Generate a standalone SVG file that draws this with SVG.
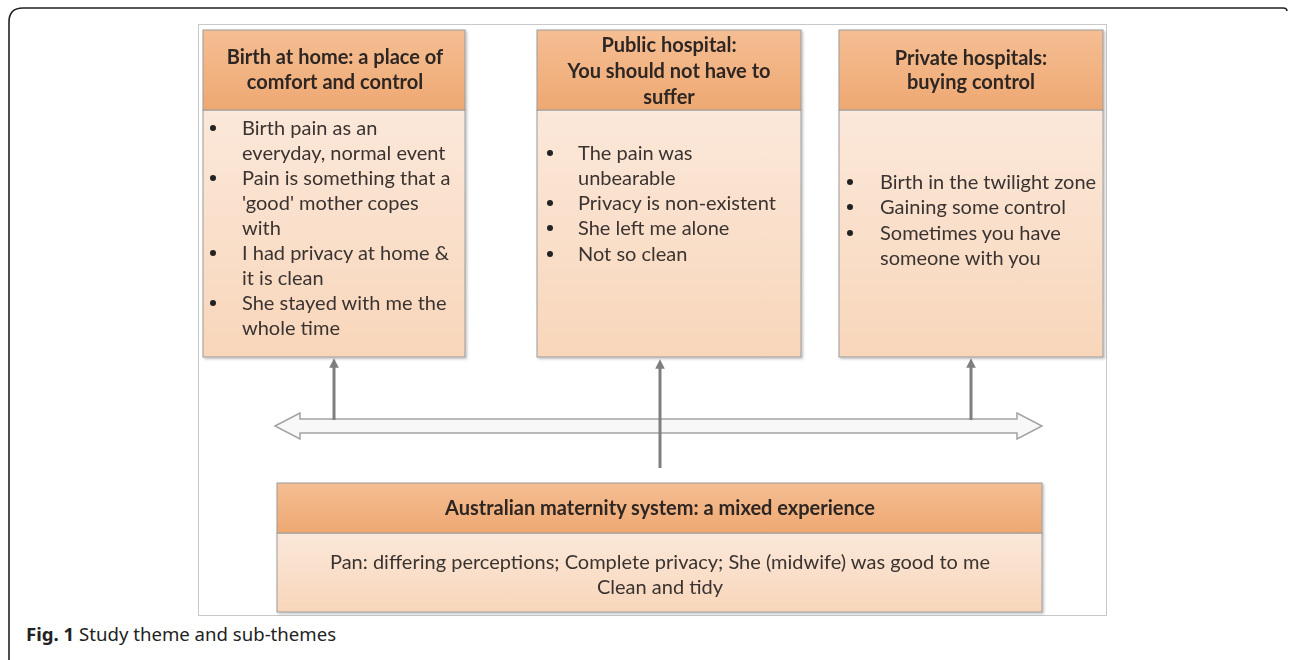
<svg xmlns="http://www.w3.org/2000/svg" width="1290" height="660" viewBox="0 0 1290 660">
  <defs>
    <linearGradient id="hdr" x1="0" y1="0" x2="0" y2="1">
      <stop offset="0" stop-color="#f5be93"/>
      <stop offset="1" stop-color="#eea872"/>
    </linearGradient>
    <linearGradient id="body" x1="0" y1="0" x2="0" y2="1">
      <stop offset="0" stop-color="#fbe8da"/>
      <stop offset="1" stop-color="#f8d6ba"/>
    </linearGradient>
    <filter id="shadow" x="-5%" y="-5%" width="110%" height="110%">
      <feDropShadow dx="1.5" dy="1.5" stdDeviation="1" flood-color="#000" flood-opacity="0.25"/>
    </filter>
    <marker id="tip" viewBox="0 0 10 10" refX="6" refY="5" markerWidth="3.2" markerHeight="3.2" orient="auto">
      <path d="M0,0 L10,5 L0,10 Z" fill="#7f7f7f"/>
    </marker>
  </defs>
  <style>
    .hdr { fill: url(#hdr); stroke: #9c9c9c; stroke-width: 1; }
    .body { fill: url(#body); stroke: #9c9c9c; stroke-width: 1; }
    .ht { font-family: Lato, "Liberation Sans", sans-serif; font-weight: bold; font-size: 20px; fill: #2e2724; text-anchor: middle; }
    .bt { font-family: Lato, "Liberation Sans", sans-serif; font-size: 20px; fill: #3a3330; }
    .bc { font-family: Lato, "Liberation Sans", sans-serif; font-size: 20px; fill: #3a3330; text-anchor: middle; }
    .dot { fill: #222; }
    .link { stroke: #7f7f7f; stroke-width: 3; fill: none; marker-end: url(#tip); }
    .cap { font-family: "Noto Sans", "Open Sans", sans-serif; font-size: 18.6px; fill: #222; }
  </style>

  <!-- page frame -->
  <path d="M9,662 L9,22 Q9,8 23,8 L1283,8 Q1287,8 1287,11" fill="none" stroke="#222" stroke-width="1.6"/>
  <!-- figure border -->
  <rect x="198.5" y="24.5" width="908" height="591" fill="#fff" stroke="#c8c8c8" stroke-width="1"/>

  <!-- timeline double arrow -->
  <path id="span-arrow" d="M275,426 L300,413 L300,419 L1017,419 L1017,413 L1042,426 L1017,439 L1017,433 L300,433 L300,439 Z" fill="#f8f8f8" stroke="#a3a3a3" stroke-width="1.5" stroke-linejoin="miter"/>

  <g id="connectors">
    <line class="link" x1="334" y1="420" x2="334" y2="362"/>
    <line class="link" x1="660" y1="468" x2="660" y2="363"/>
    <line class="link" x1="971" y1="420" x2="971" y2="362"/>
  </g>

  <g id="home" filter="url(#shadow)">
    <rect class="body" x="203" y="110" width="262" height="247"/>
    <rect class="hdr" x="203" y="30" width="262" height="80"/>
    <text class="ht" x="335" y="64">Birth at home: a place of</text>
    <text class="ht" x="335" y="89">comfort and control</text>
    <g class="dot">
      <circle cx="213" cy="128" r="3"/>
      <circle cx="213" cy="178" r="3"/>
      <circle cx="213" cy="253" r="3"/>
      <circle cx="213" cy="303" r="3"/>
    </g>
    <text class="bt" x="242" y="135">Birth pain as an</text>
    <text class="bt" x="242" y="160">everyday, normal event</text>
    <text class="bt" x="242" y="185">Pain is something that a</text>
    <text class="bt" x="242" y="210">'good' mother copes</text>
    <text class="bt" x="242" y="235">with</text>
    <text class="bt" x="242" y="260">I had privacy at home &amp;</text>
    <text class="bt" x="242" y="285">it is clean</text>
    <text class="bt" x="242" y="310">She stayed with me the</text>
    <text class="bt" x="242" y="335">whole time</text>
  </g>

  <g id="public" filter="url(#shadow)">
    <rect class="body" x="537" y="110" width="264" height="247"/>
    <rect class="hdr" x="537" y="30" width="264" height="80"/>
    <text class="ht" x="669" y="52">Public hospital:</text>
    <text class="ht" x="669" y="78">You should not have to</text>
    <text class="ht" x="669" y="104">suffer</text>
    <g class="dot">
      <circle cx="550" cy="153" r="3"/>
      <circle cx="550" cy="203" r="3"/>
      <circle cx="550" cy="228" r="3"/>
      <circle cx="550" cy="254" r="3"/>
    </g>
    <text class="bt" x="578" y="160">The pain was</text>
    <text class="bt" x="578" y="185">unbearable</text>
    <text class="bt" x="578" y="210">Privacy is non-existent</text>
    <text class="bt" x="578" y="235">She left me alone</text>
    <text class="bt" x="578" y="261">Not so clean</text>
  </g>

  <g id="private" filter="url(#shadow)">
    <rect class="body" x="839" y="110" width="264" height="247"/>
    <rect class="hdr" x="839" y="30" width="264" height="80"/>
    <text class="ht" x="971" y="65">Private hospitals:</text>
    <text class="ht" x="971" y="89">buying control</text>
    <g class="dot">
      <circle cx="850" cy="182" r="3"/>
      <circle cx="850" cy="207" r="3"/>
      <circle cx="850" cy="233" r="3"/>
    </g>
    <text class="bt" x="880" y="189">Birth in the twilight zone</text>
    <text class="bt" x="880" y="214">Gaining some control</text>
    <text class="bt" x="880" y="240">Sometimes you have</text>
    <text class="bt" x="880" y="265">someone with you</text>
  </g>

  <g id="system" filter="url(#shadow)">
    <rect class="body" x="277" y="533" width="765" height="79"/>
    <rect class="hdr" x="277" y="483" width="765" height="50"/>
    <text class="ht" x="660" y="515">Australian maternity system: a mixed experience</text>
    <text class="bc" x="660" y="569">Pan: differing perceptions; Complete privacy; She (midwife) was good to me</text>
    <text class="bc" x="660" y="594">Clean and tidy</text>
  </g>

  <text class="cap" x="26" y="641"><tspan font-weight="bold">Fig. 1</tspan> Study theme and sub-themes</text>
</svg>
